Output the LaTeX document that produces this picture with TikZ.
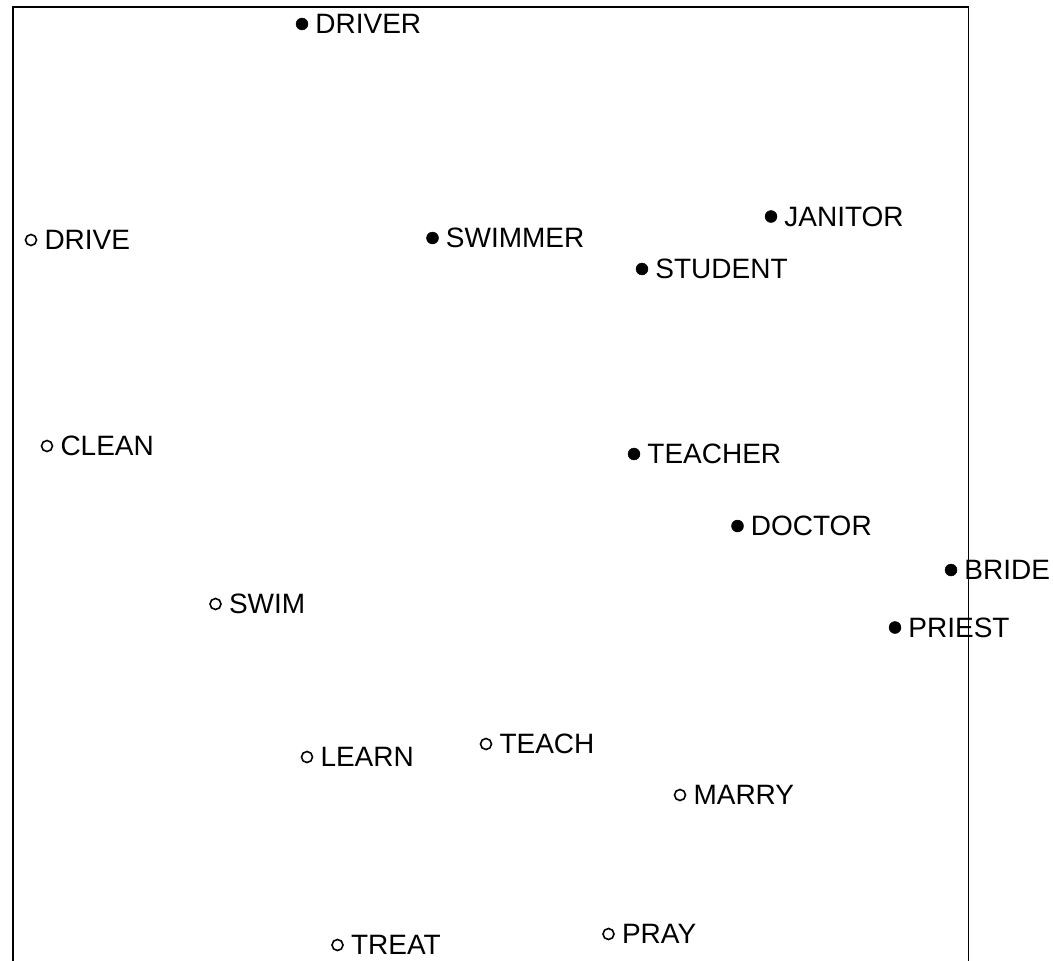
\documentclass[tikz,border=0pt]{standalone}
\usepackage{fontspec}
\setmainfont{Liberation Sans}
\newcommand\wordsize{\fontsize{28}{33}\selectfont}

\tikzset{
  noun/.style={circle,draw=black,fill=black,inner sep=0pt,minimum size=12pt},
  verb/.style={circle,draw=black,line width=1.6pt,inner sep=0pt,minimum size=11pt},
  every label/.style={font=\wordsize,inner sep=0pt},
  label distance=7pt
}

\begin{document}
\begin{tikzpicture}[x=1pt,y=-1pt]
    \useasboundingbox (0,0) rectangle (1053,961);
    \clip (0,0) rectangle (1053,961);

    % Frame
    \draw[line width=1.6pt] (13,961) -- (13,7) -- (968.5,7) -- (968.5,961);

    % Nouns
    \node (driver)  at (302,24)    [noun,label=right:DRIVER] {};
    \node (swimmer) at (432.5,238) [noun,label=right:SWIMMER] {};
    \node (janitor) at (771,216.5) [noun,label=right:JANITOR] {};
    \node (student) at (642,269)   [noun,label=right:STUDENT] {};
    \node (teacher) at (634,454)   [noun,label=right:TEACHER] {};
    \node (doctor)  at (737.5,526) [noun,label=right:DOCTOR] {};
    \node (bride)   at (951,570)   [noun,label=right:BRIDE] {};
    \node (priest)  at (895,627.5) [noun,label=right:PRIEST] {};

    % Verbs
    \node (drive) at (31,240)    [verb,label=right:DRIVE] {};
    \node (clean) at (47,446)    [verb,label=right:CLEAN] {};
    \node (swim)  at (215.5,604) [verb,label=right:SWIM] {};
    \node (learn) at (307,757)   [verb,label=right:LEARN] {};
    \node (teach) at (486,744)   [verb,label=right:TEACH] {};
    \node (marry) at (680,795)   [verb,label=right:MARRY] {};
    \node (pray)  at (608.5,934) [verb,label=right:PRAY] {};
    \node (treat) at (337.5,945) [verb,label=right:TREAT] {};
\end{tikzpicture}
\end{document}
